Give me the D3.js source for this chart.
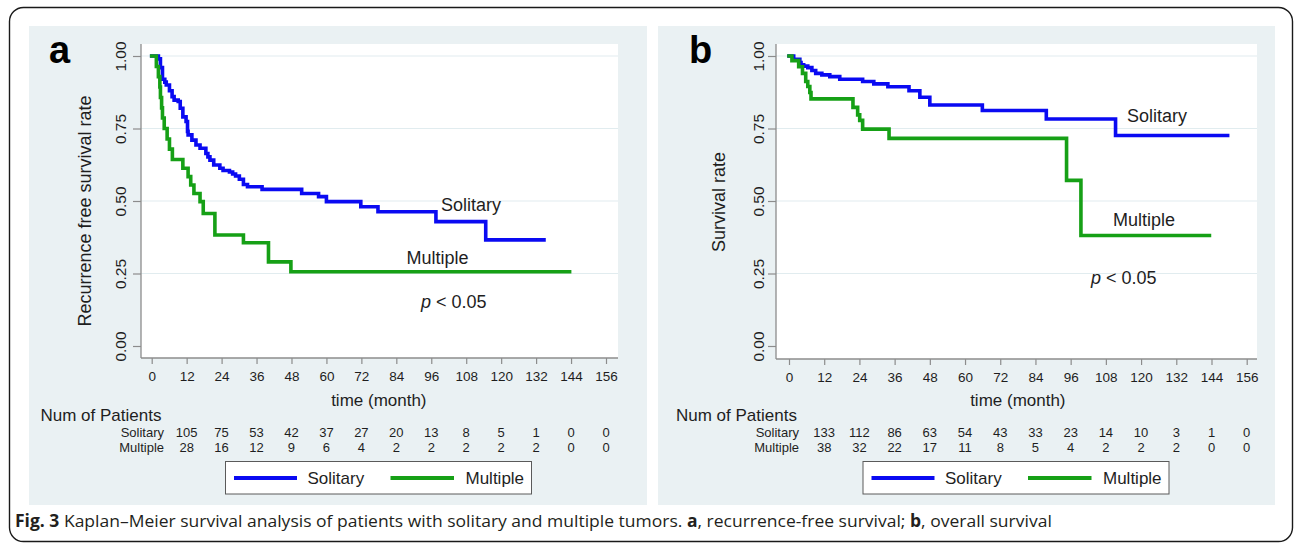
<!DOCTYPE html>
<html>
<head>
<meta charset="utf-8">
<script src="https://cdn.jsdelivr.net/npm/d3@7"></script>
<style>
  html, body { margin: 0; padding: 0; background: #ffffff; }
  svg { display: block; }
</style>
</head>
<body>
<svg id="fig" width="1295" height="550"></svg>
<script>
// ---- axis ticks ----
const timeTicks = [0, 12, 24, 36, 48, 60, 72, 84, 96, 108, 120, 132, 144, 156];
const survTicks = [0, 0.25, 0.5, 0.75, 1];
const riskTimes = [12, 24, 36, 48, 60, 72, 84, 96, 108, 120, 132, 144, 156];
const groups = ["Solitary", "Multiple"];

// ---- (a) recurrence-free survival, Kaplan–Meier steps ----
const rfsSolitaryTime = [0, 2.3, 3.0, 3.7, 4.5, 5.0, 6.1, 7.0, 7.7, 9.1, 9.8, 10.7, 11.8, 12.3, 12.5, 13.8, 15.2, 16.6, 18.6, 19.3, 20.0, 21.3, 23.4, 24.5, 26.7, 27.8, 28.8, 30.1, 31.5, 32.9, 37.9, 51.5, 57.3, 60.0, 71.8, 77.7, 97.6, 114.7];
const rfsSolitarySurv = [1, 0.99, 0.96, 0.92, 0.91, 0.90, 0.88, 0.86, 0.848, 0.843, 0.82, 0.79, 0.774, 0.74, 0.728, 0.71, 0.693, 0.682, 0.664, 0.652, 0.641, 0.624, 0.613, 0.605, 0.60, 0.593, 0.586, 0.575, 0.557, 0.549, 0.54, 0.526, 0.515, 0.498, 0.48, 0.463, 0.429, 0.366];
const rfsSolitaryEnd = 134.7;

const rfsMultipleTime = [0, 1.6, 2.3, 2.8, 3.0, 3.4, 3.7, 4.3, 5.3, 6.1, 7.1, 10.7, 12.5, 13.4, 14.5, 16.6, 17.7, 21.7, 31.5, 40.1, 47.8];
const rfsMultipleSurv = [1, 0.964, 0.929, 0.893, 0.857, 0.821, 0.786, 0.75, 0.714, 0.679, 0.643, 0.613, 0.584, 0.555, 0.526, 0.498, 0.457, 0.383, 0.356, 0.29, 0.256];
const rfsMultipleEnd = 143.5;

const rfsRiskSolitary = [105, 75, 53, 42, 37, 27, 20, 13, 8, 5, 1, 0, 0];
const rfsRiskMultiple = [28, 16, 12, 9, 6, 4, 2, 2, 2, 2, 2, 0, 0];

// ---- (b) overall survival, Kaplan–Meier steps ----
const osSolitaryTime = [0, 1.6, 3.7, 4.1, 5.0, 6.4, 7.8, 9.1, 11.2, 13.9, 17.3, 25.1, 28.9, 33.7, 40.9, 44.6, 48.0, 65.9, 87.7, 111.3];
const osSolitarySurv = [1, 0.989, 0.977, 0.97, 0.965, 0.96, 0.95, 0.94, 0.935, 0.929, 0.92, 0.912, 0.904, 0.894, 0.88, 0.858, 0.831, 0.812, 0.783, 0.726];
const osSolitaryEnd = 149.5;

const osMultipleTime = [0, 1.0, 3.3, 4.6, 5.7, 6.4, 7.1, 7.5, 21.8, 23.4, 24.1, 25.1, 34.1, 94.6, 99.5];
const osMultipleSurv = [1, 0.984, 0.963, 0.94, 0.912, 0.895, 0.874, 0.852, 0.823, 0.797, 0.778, 0.748, 0.716, 0.571, 0.381];
const osMultipleEnd = 143.3;

const osRiskSolitary = [133, 112, 86, 63, 54, 43, 33, 23, 14, 10, 3, 1, 0];
const osRiskMultiple = [38, 32, 22, 17, 11, 8, 5, 4, 2, 2, 2, 0, 0];

// ---- styling ----
const FONT = "'Liberation Sans', Arial, Helvetica, sans-serif";
const BG = "#eaf1f3";
const GRID = "#e1ecef";
const AXIS = "#8c8c8c";
const INK = "#1e1e1e";
const COLORS = { Solitary: "#0a0af2", Multiple: "#16a016" };

const svg = d3.select("#fig");

// outer frame
svg.append("rect")
  .attr("x", 9.5).attr("y", 7.5).attr("width", 1283).attr("height", 534)
  .attr("rx", 14).attr("ry", 14)
  .attr("fill", "#ffffff").attr("stroke", "#1a1a1a").attr("stroke-width", 1.4);

function steps(times, surv, end) {
  const pts = times.map((t, i) => [t, surv[i]]);
  pts.push([end, surv[surv.length - 1]]);
  return pts;
}

function drawPanel(cfg) {
  const g = svg.append("g");

  g.append("rect")
    .attr("x", cfg.bg[0]).attr("y", cfg.bg[1]).attr("width", cfg.bg[2]).attr("height", cfg.bg[3])
    .attr("fill", BG);

  const p = cfg.plot;
  g.append("rect")
    .attr("x", p.x0).attr("y", p.y0).attr("width", p.x1 - p.x0).attr("height", p.y1 - p.y0)
    .attr("fill", "#ffffff");

  const x = d3.scaleLinear().domain([0, 156]).range(cfg.xRange);
  const y = d3.scaleLinear().domain([0, 1]).range([346, 56]);

  // horizontal grid lines
  g.append("g").selectAll("line")
    .data(survTicks.filter(v => v > 0))
    .join("line")
    .attr("x1", p.x0).attr("x2", p.x1)
    .attr("y1", d => y(d)).attr("y2", d => y(d))
    .attr("stroke", GRID).attr("stroke-width", 1.2);

  // survival curves
  const line = d3.line().x(d => x(d[0])).y(d => y(d[1])).curve(d3.curveStepAfter);
  cfg.series.forEach(s => {
    g.append("path")
      .datum(steps(s.time, s.surv, s.end))
      .attr("d", line)
      .attr("fill", "none")
      .attr("stroke", COLORS[s.name])
      .attr("stroke-width", 3.6)
      .attr("stroke-linejoin", "miter")
      .attr("stroke-linecap", "square");
  });

  // y axis
  const yAxis = g.append("g")
    .attr("transform", `translate(${p.x0},0)`)
    .call(d3.axisLeft(y).tickValues(survTicks).tickSize(8).tickFormat(d3.format(".2f")));
  yAxis.select(".domain").remove();
  yAxis.selectAll(".tick line").attr("stroke", AXIS).attr("stroke-width", 1.2);
  yAxis.selectAll(".tick text")
    .attr("transform", "rotate(-90)")
    .attr("x", 0).attr("y", -cfg.yLabelOffset).attr("dy", "0.36em")
    .attr("text-anchor", "middle")
    .attr("fill", INK)
    .style("font-family", FONT).style("font-size", "15.5px");
  g.append("line")
    .attr("x1", p.x0).attr("x2", p.x0).attr("y1", p.y0).attr("y2", p.y1)
    .attr("stroke", AXIS).attr("stroke-width", 1.3);

  // x axis
  const xAxis = g.append("g")
    .attr("transform", `translate(0,${p.y1})`)
    .call(d3.axisBottom(x).tickValues(timeTicks).tickSize(6).tickPadding(7));
  xAxis.select(".domain").remove();
  xAxis.selectAll(".tick line").attr("stroke", AXIS).attr("stroke-width", 1.2);
  xAxis.selectAll(".tick text")
    .attr("fill", INK)
    .style("font-family", FONT).style("font-size", "13.5px");
  g.append("line")
    .attr("x1", p.x0).attr("x2", p.x1).attr("y1", p.y1).attr("y2", p.y1)
    .attr("stroke", AXIS).attr("stroke-width", 1.3);

  // axis titles
  g.append("text")
    .attr("transform", `translate(${cfg.yTitle[0]},${cfg.yTitle[1]}) rotate(-90)`)
    .attr("text-anchor", "middle").attr("dy", "0.35em")
    .attr("fill", INK)
    .style("font-family", FONT).style("font-size", "18px")
    .text(cfg.yTitleText);
  g.append("text")
    .attr("x", x(78)).attr("y", 400).attr("dy", "0.35em")
    .attr("text-anchor", "middle").attr("fill", INK)
    .style("font-family", FONT).style("font-size", "17px")
    .text("time (month)");

  // panel letter
  g.append("text")
    .attr("x", cfg.letter[0]).attr("y", cfg.letter[1])
    .attr("fill", "#000").style("font-family", FONT)
    .style("font-size", "38px").style("font-weight", "bold")
    .text(cfg.letterText);

  // curve annotations
  cfg.notes.forEach(n => {
    const t = g.append("text")
      .attr("x", n.pos[0]).attr("y", n.pos[1]).attr("dy", "0.35em")
      .attr("fill", INK).style("font-family", FONT).style("font-size", "18px");
    if (n.italicP) {
      t.append("tspan").style("font-style", "italic").text("p");
      t.append("tspan").text(" < 0.05");
    } else {
      t.text(n.text);
    }
  });

  // number-at-risk table
  g.append("text")
    .attr("x", cfg.tableLeft).attr("y", 415).attr("dy", "0.35em")
    .attr("fill", INK).style("font-family", FONT).style("font-size", "17px")
    .text("Num of Patients");
  const rowY = [432, 447];
  cfg.risk.forEach((row, r) => {
    g.append("text")
      .attr("x", cfg.rowLabelRight).attr("y", rowY[r]).attr("dy", "0.35em")
      .attr("text-anchor", "end").attr("fill", INK)
      .style("font-family", FONT).style("font-size", "13px")
      .text(groups[r]);
    g.append("g").selectAll("text")
      .data(row)
      .join("text")
      .attr("x", (d, i) => x(riskTimes[i])).attr("y", rowY[r]).attr("dy", "0.35em")
      .attr("text-anchor", "middle").attr("fill", INK)
      .style("font-family", FONT).style("font-size", "13px")
      .text(d => d);
  });

  // legend
  const lg = g.append("g").attr("transform", `translate(${cfg.legend[0]},${cfg.legend[1]})`);
  lg.append("rect")
    .attr("x", 0).attr("y", 0).attr("width", 306).attr("height", 32.5)
    .attr("fill", "#ffffff").attr("stroke", "#5a5a5a").attr("stroke-width", 1);
  const items = [
    { name: "Solitary", x1: 8.5, x2: 71.5, tx: 82 },
    { name: "Multiple", x1: 165, x2: 228.5, tx: 240 }
  ];
  items.forEach(it => {
    lg.append("line")
      .attr("x1", it.x1).attr("x2", it.x2).attr("y1", 16.5).attr("y2", 16.5)
      .attr("stroke", COLORS[it.name]).attr("stroke-width", 4);
    lg.append("text")
      .attr("x", it.tx).attr("y", 16.5).attr("dy", "0.35em")
      .attr("fill", INK).style("font-family", FONT).style("font-size", "17px")
      .text(it.name);
  });
}

drawPanel({
  bg: [29, 26, 618, 479],
  plot: { x0: 141, x1: 618, y0: 44, y1: 358 },
  xRange: [151.7, 606],
  yLabelOffset: 20.5,
  yTitle: [85, 211],
  yTitleText: "Recurrence free survival rate",
  letter: [49, 63],
  letterText: "a",
  series: [
    { name: "Solitary", time: rfsSolitaryTime, surv: rfsSolitarySurv, end: rfsSolitaryEnd },
    { name: "Multiple", time: rfsMultipleTime, surv: rfsMultipleSurv, end: rfsMultipleEnd }
  ],
  notes: [
    { text: "Solitary", pos: [441, 205] },
    { text: "Multiple", pos: [406.5, 258] },
    { italicP: true, pos: [421, 302] }
  ],
  tableLeft: 40.5,
  rowLabelRight: 164,
  risk: [rfsRiskSolitary, rfsRiskMultiple],
  legend: [225.5, 461.5]
});

drawPanel({
  bg: [658, 26, 617, 479],
  plot: { x0: 776, x1: 1257, y0: 44, y1: 359 },
  xRange: [789, 1246.7],
  yLabelOffset: 17.5,
  yTitle: [719, 202],
  yTitleText: "Survival rate",
  letter: [689, 63],
  letterText: "b",
  series: [
    { name: "Solitary", time: osSolitaryTime, surv: osSolitarySurv, end: osSolitaryEnd },
    { name: "Multiple", time: osMultipleTime, surv: osMultipleSurv, end: osMultipleEnd }
  ],
  notes: [
    { text: "Solitary", pos: [1127, 116] },
    { text: "Multiple", pos: [1113, 220] },
    { italicP: true, pos: [1091, 278] }
  ],
  tableLeft: 676,
  rowLabelRight: 799,
  risk: [osRiskSolitary, osRiskMultiple],
  legend: [863, 461.5]
});

// figure caption
const cap = svg.append("text")
  .attr("x", 15).attr("y", 527)
  .attr("fill", "#231f20")
  .style("font-family", "'Liberation Sans Narrow', 'Open Sans', 'Liberation Sans', sans-serif")
  .style("font-size", "17px");
cap.append("tspan").style("font-weight", "bold").text("Fig. 3");
cap.append("tspan").text(" Kaplan–Meier survival analysis of patients with solitary and multiple tumors. ");
cap.append("tspan").style("font-weight", "bold").text("a");
cap.append("tspan").text(", recurrence-free survival; ");
cap.append("tspan").style("font-weight", "bold").text("b");
cap.append("tspan").text(", overall survival");
// fit the caption to its column width
const capWidth = cap.node().getComputedTextLength();
const k = 1037 / capWidth;
cap.attr("transform", `translate(${15 - 15 * k},0) scale(${k},1)`);
</script>
</body>
</html>
